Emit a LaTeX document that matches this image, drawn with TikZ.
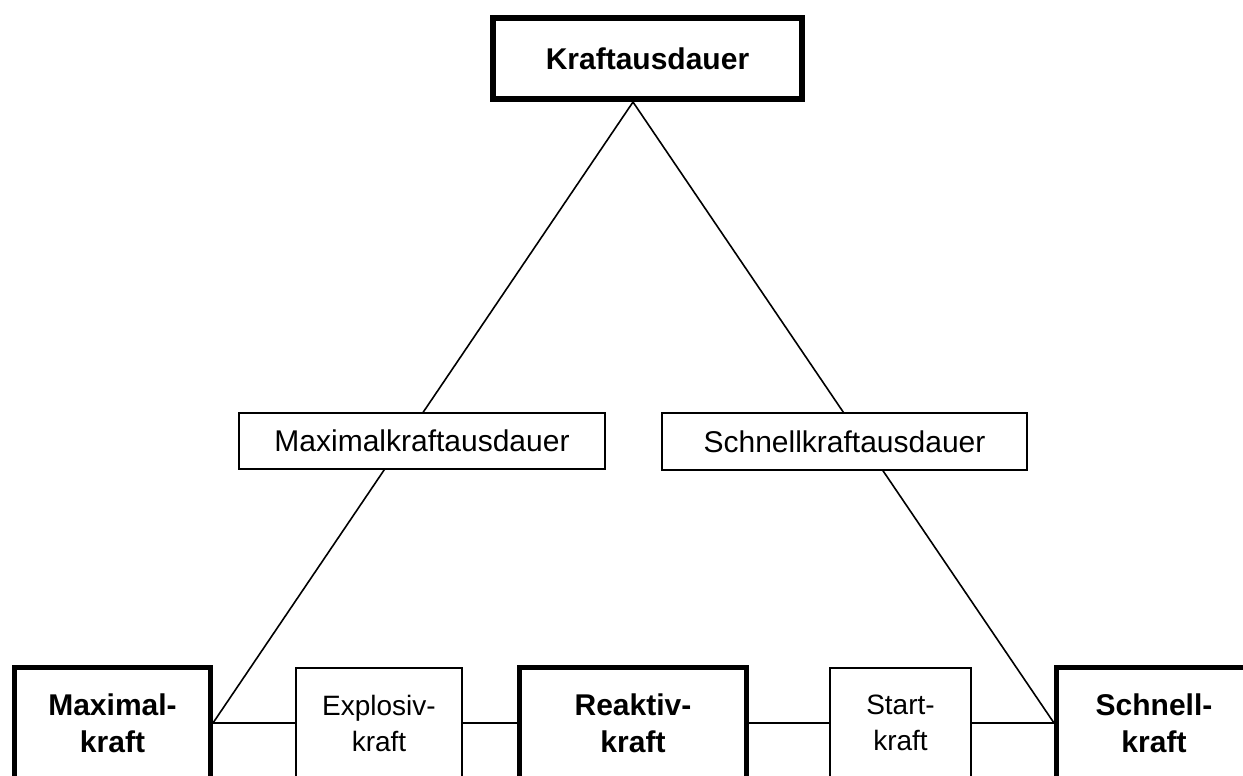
\documentclass[tikz,border=0pt]{standalone}
\usepackage{fontspec}
\setmainfont{Liberation Sans}
\usetikzlibrary{backgrounds,calc}
\begin{document}
\begin{tikzpicture}[x=1pt,y=-1pt,
  basebox/.style={draw=black, fill=white, inner sep=0pt, align=center},
  heavybox/.style={basebox, line width=5pt, font=\bfseries\fontsize{30}{37}\selectfont},
  topbox/.style={basebox, line width=6pt, font=\bfseries\fontsize{30}{37}\selectfont},
  midbox/.style={basebox, line width=2pt, font=\fontsize{30}{37}\selectfont},
  lightbox/.style={basebox, line width=2pt, font=\fontsize{28}{36}\selectfont},
  link/.style={draw=black, line width=1.6pt}]
\clip (0,0) rectangle (1243,776);
\useasboundingbox (0,0) rectangle (1243,776);

\node[topbox, minimum width=309pt, minimum height=81pt] (top) at (647.5,58.5) {Kraftausdauer};
\node[midbox, minimum width=366pt, minimum height=56pt] (mlk) at (422,441) {Maximalkraftausdauer};
\node[midbox, minimum width=365pt, minimum height=57pt] (slk) at (844.5,441.5) {Schnellkraftausdauer};

\node[heavybox, minimum width=196pt, minimum height=111pt] (maxk) at (112.5,723) {Maximal-\\kraft};
\node[lightbox, minimum width=166pt, minimum height=110pt] (expl) at (379,723) {Explosiv-\\kraft};
\node[heavybox, minimum width=227pt, minimum height=111pt] (reak) at (633,723) {Reaktiv-\\kraft};
\node[lightbox, minimum width=141pt, minimum height=110pt] (start) at (900.5,723) {Start-\\kraft};
\node[heavybox, minimum width=195pt, minimum height=111pt] (schn) at (1154,723) {Schnell-\\kraft};

\coordinate (apex) at (reak.north |- top.south);

\begin{scope}[on background layer]
  \draw[link] (apex) -- (maxk.east);
  \draw[link] (apex) -- (schn.west);
\end{scope}
\draw[link] (maxk.east) -- (expl.west);
\draw[link] (expl.east) -- (reak.west);
\draw[link] (reak.east) -- (start.west);
\draw[link] (start.east) -- (schn.west);
\end{tikzpicture}
\end{document}
